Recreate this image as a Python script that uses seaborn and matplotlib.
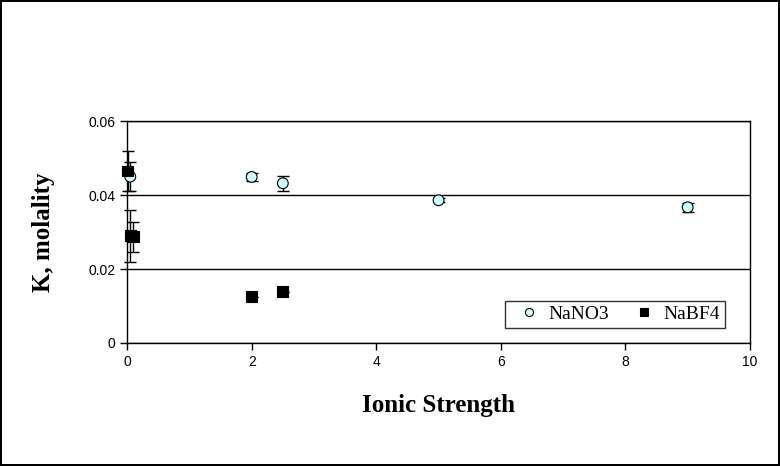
# Recreate K vs ionic strength scatter with error bars.

import pandas as pd
import matplotlib.pyplot as plt
import seaborn as sns

# Data.

nano3_x = [0.05, 2.0, 2.5, 5.0, 9.0]
nano3_k = [0.0450, 0.0449, 0.0432, 0.0386, 0.0367]
nano3_err = [0.004, 0.0010, 0.0020, 0.0006, 0.0012]

nabf4_x = [0.01, 0.05, 0.10, 2.0, 2.5]
nabf4_k = [0.0465, 0.0290, 0.0287, 0.0125, 0.0139]
nabf4_err = [0.0055, 0.0070, 0.0040, 0.0, 0.0]

df = pd.concat([
    pd.DataFrame({'I': nano3_x, 'K': nano3_k, 'err': nano3_err, 'salt': 'NaNO3'}),
    pd.DataFrame({'I': nabf4_x, 'K': nabf4_k, 'err': nabf4_err, 'salt': 'NaBF4'}),
])

sns.set_style('white')
plt.rcParams['font.family'] = ['Liberation Sans', 'DejaVu Sans']
plt.rcParams['text.color'] = 'black'
plt.rcParams['axes.labelcolor'] = 'black'
plt.rcParams['xtick.color'] = 'black'
plt.rcParams['ytick.color'] = 'black'

fig = plt.figure(figsize=(7.8, 4.66), dpi=100)
fig.patch.set_edgecolor('black')
fig.patch.set_linewidth(1.5)
ax = fig.add_axes([0.163, 0.264, 0.7985, 0.476])

# error bars first, markers on top
for name, g in df.groupby('salt', sort=False):
    eb = ax.errorbar(g['I'], g['K'], yerr=g['err'], fmt='none', ecolor='black',
                     elinewidth=1, capsize=4.5, capthick=1, zorder=2)
    for art in eb.get_children():
        art.set_clip_on(False)

sns.scatterplot(data=df, x='I', y='K', hue='salt', style='salt',
                palette={'NaNO3': '#ccffff', 'NaBF4': 'black'},
                markers={'NaNO3': 'o', 'NaBF4': 's'},
                s=60, edgecolor='black', linewidth=0.8, ax=ax, zorder=3,
                clip_on=False)

ax.set_xlim(0, 10)
ax.set_ylim(0, 0.06)
ax.set_xticks([0, 2, 4, 6, 8, 10])
ax.set_yticks([0, 0.02, 0.04, 0.06])
ax.set_yticklabels(['0', '0.02', '0.04', '0.06'])
ax.yaxis.grid(True, color='black', linewidth=1)
ax.xaxis.grid(False)
ax.tick_params(axis='both', direction='out', length=5, width=1, color='black',
               labelcolor='black', labelsize=10, left=True, bottom=True)
for s in ax.spines.values():
    s.set_color('black')
    s.set_linewidth(1)

ax.set_xlabel('Ionic Strength', family='Liberation Serif', fontweight='bold',
              fontsize=18, labelpad=18, color='black')
ax.set_ylabel('K, molality', family='Liberation Serif', fontweight='bold',
              fontsize=18, labelpad=24, color='black')

leg = ax.legend(ncol=2, loc='lower right', bbox_to_anchor=(0.96, 0.068),
                borderaxespad=0, frameon=True, fancybox=False, edgecolor='black',
                handletextpad=0.0, columnspacing=0.8, borderpad=0.25,
                markerscale=0.75, prop={'family': 'Liberation Serif', 'size': 14})
leg.get_frame().set_linewidth(1)
for t in leg.get_texts():
    t.set_color('black')

fig.savefig('out.png', dpi=100, edgecolor=fig.get_edgecolor())
